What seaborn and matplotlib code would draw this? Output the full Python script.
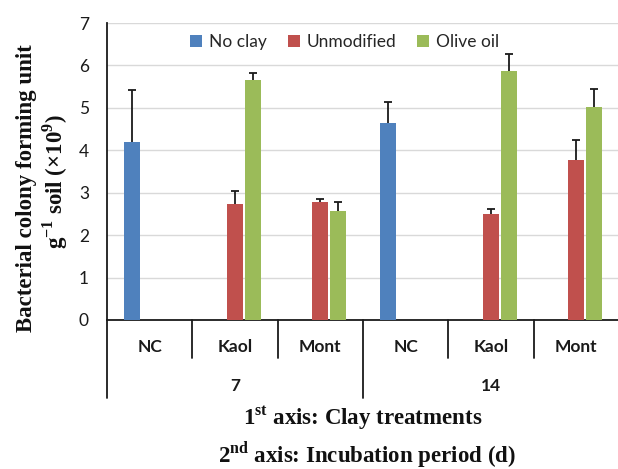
import numpy as np
import pandas as pd
import matplotlib
matplotlib.use("Agg")
import matplotlib.pyplot as plt
import matplotlib.transforms as mtransforms
import seaborn as sns

# Treatments along the first axis, grouped by incubation period
treatments = ["NC", "Kaol", "Mont", "NC", "Kaol", "Mont"]
periods = ["7", "14"]
series = ["No clay", "Unmodified", "Olive oil"]

# Bacterial CFU g-1 soil (x10^9); NaN where the treatment has no such bar
no_clay = [4.19, np.nan, np.nan, 4.65, np.nan, np.nan]
unmodified = [np.nan, 2.73, 2.79, np.nan, 2.49, 3.78]
olive_oil = [np.nan, 5.65, 2.58, np.nan, 5.87, 5.02]

# Upper error bars
no_clay_err = [1.22, np.nan, np.nan, 0.48, np.nan, np.nan]
unmodified_err = [np.nan, 0.31, 0.06, np.nan, 0.12, 0.47]
olive_oil_err = [np.nan, 0.18, 0.19, np.nan, 0.40, 0.42]

colors = ["#4F81BD", "#C0504D", "#9BBB59"]

slots = [f"{t}-{periods[i // 3]}" for i, t in enumerate(treatments)]
values = {"No clay": no_clay, "Unmodified": unmodified, "Olive oil": olive_oil}
errors = {"No clay": no_clay_err, "Unmodified": unmodified_err, "Olive oil": olive_oil_err}

rows = []
for name in series:
    for slot, v in zip(slots, values[name]):
        if not np.isnan(v):
            rows.append({"slot": slot, "series": name, "cfu": v})
df = pd.DataFrame(rows)

sns.set_theme(style="white")
plt.rcParams["font.family"] = ["Lato", "DejaVu Sans"]
plt.rcParams["mathtext.fontset"] = "custom"
plt.rcParams["mathtext.rm"] = "Liberation Serif:bold"
plt.rcParams["mathtext.bf"] = "Liberation Serif:bold"

fig = plt.figure(figsize=(6.18, 4.69), dpi=100)
ax = fig.add_axes([107 / 618, 1 - 320 / 469, 512 / 618, 297 / 469])

sns.barplot(data=df, x="slot", y="cfu", hue="series", order=slots,
            hue_order=series, palette=colors, width=0.62, gap=0.08,
            errorbar=None, linewidth=0, saturation=1, ax=ax, zorder=3)

# Upper-only error bars on top of each bar
for name, cont in zip(series, ax.containers):
    for patch in cont.patches:
        h = patch.get_height()
        if np.isnan(h):
            continue
        xc = patch.get_x() + patch.get_width() / 2
        idx = int(round(xc))
        e = errors[name][idx]
        eb = ax.errorbar(xc, h, yerr=[[0], [e]], fmt="none", ecolor="#1a1a1a",
                         elinewidth=1.3, capsize=3.2, capthick=1.3, zorder=4)
        # keep only the cap at the upper end
        for cap in eb[1]:
            if cap.get_ydata()[0] <= h + 1e-9:
                cap.set_visible(False)

ax.set_ylim(0, 7)
ax.set_xlim(-0.5, 5.5)
ax.set_yticks(range(0, 8))
ax.yaxis.grid(True, color="#D9D9D9", linewidth=1)
ax.set_axisbelow(True)
ax.tick_params(axis="y", labelsize=12.5, length=4, width=1, color="#333333",
               direction="out", pad=9, labelcolor="#1a1a1a")
ax.set_xticks([])
ax.set_xlabel("")
ax.set_ylabel("")
for s in ["top", "right"]:
    ax.spines[s].set_visible(False)
ax.spines["left"].set_color("#1a1a1a")
ax.spines["left"].set_linewidth(1.3)
ax.spines["bottom"].set_color("#1a1a1a")
ax.spines["bottom"].set_linewidth(1.3)

# Two-level category axis below the plot
trans = mtransforms.blended_transform_factory(ax.transData, ax.transAxes)
for b in np.arange(-0.5, 6.0, 1.0):
    long = (b + 0.5) % 3 == 0
    ax.plot([b, b], [0, -0.263 if long else -0.128], transform=trans,
            color="#1a1a1a", lw=1.3, clip_on=False)
for i, t in enumerate(treatments):
    ax.text(i, -0.092, t, transform=trans, ha="center", va="center",
            fontsize=12.5, fontweight="bold", color="#1a1a1a")
for j, p in enumerate(periods):
    ax.text(3 * j + 1, -0.222, p, transform=trans, ha="center", va="center",
            fontsize=12.5, fontweight="bold", color="#1a1a1a")

sns.move_legend(ax, "center", bbox_to_anchor=(0.464, 0.936), ncol=3,
                frameon=False, title=None, fontsize=12.5,
                handlelength=0.7, handleheight=0.7, handletextpad=0.4,
                columnspacing=1.2)

serif = dict(family="Liberation Serif", fontweight="bold", color="#111111")
fig.text(27 / 618, 1 - 188 / 469, "Bacterial colony forming unit",
         rotation=90, ha="center", va="center", fontsize=16.5, **serif)
fig.text(55 / 618, 1 - 182 / 469, r"g$^{\mathrm{-1}}$ soil (×10$^{\mathrm{9}}$)",
         rotation=90, ha="center", va="center", fontsize=16.5, **serif)
fig.text(363 / 618, 1 - 418 / 469, r"1$^{\mathrm{st}}$ axis: Clay treatments",
         ha="center", va="center", fontsize=16.5, **serif)
fig.text(367 / 618, 1 - 455 / 469, r"2$^{\mathrm{nd}}$ axis: Incubation period (d)",
         ha="center", va="center", fontsize=16.5, **serif)

fig.savefig("out.png", dpi=100)
